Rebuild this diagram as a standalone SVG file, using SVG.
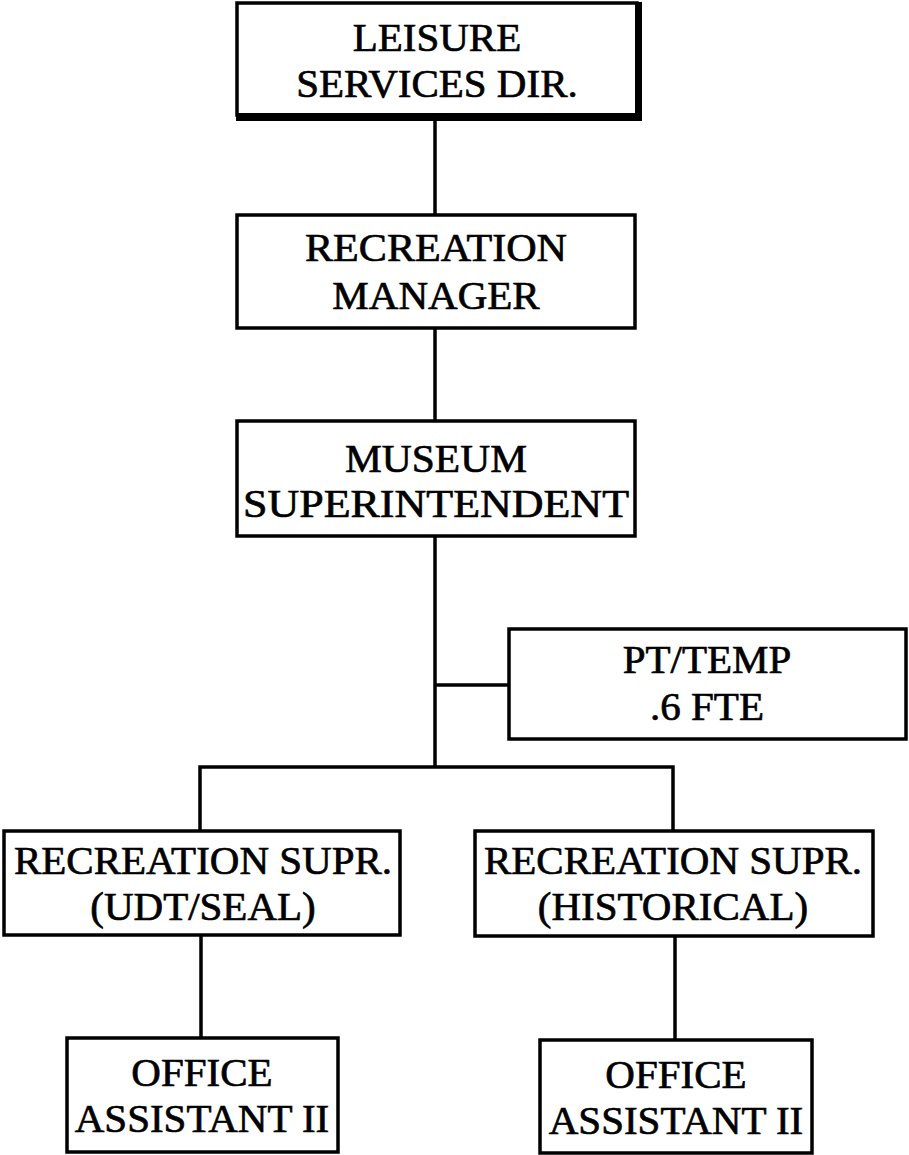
<svg xmlns="http://www.w3.org/2000/svg" width="909" height="1155" viewBox="0 0 909 1155">
  <style>
    .box { fill: #fff; stroke: #000; stroke-width: 3.5; }
    .lbl { font-family: "Liberation Serif", "Times New Roman", serif; font-size: 41px; fill: #000; stroke: #000; stroke-width: 0.7; text-anchor: middle; }
    .wire { stroke: #000; stroke-width: 3.5; fill: none; }
  </style>
  <rect width="909" height="1155" fill="#fff"/>

  <g id="connectors">
    <line class="wire" x1="435" y1="120" x2="435" y2="215"/>
    <line class="wire" x1="435" y1="328" x2="435" y2="421"/>
    <line class="wire" x1="435" y1="536" x2="435" y2="767"/>
    <line class="wire" x1="435" y1="685" x2="509" y2="685"/>
    <polyline class="wire" points="200,831 200,767 673,767 673,831"/>
    <line class="wire" x1="201" y1="935" x2="201" y2="1038"/>
    <line class="wire" x1="675" y1="936" x2="675" y2="1040"/>
  </g>

  <g id="leisure-services-dir">
    <rect class="box" x="237" y="3" width="400" height="112"/>
    <!-- heavy bottom and right edges -->
    <path d="M236 113 H642 V2 H635 V114 H236 Z M236 113 H642 V121 H236 Z" fill="#000"/>
    <text class="lbl" x="437" y="51">LEISURE</text>
    <text class="lbl" x="437" y="97">SERVICES DIR.</text>
  </g>

  <g id="recreation-manager">
    <rect class="box" x="237" y="215" width="398" height="113"/>
    <text class="lbl" x="436" y="261" textLength="262" lengthAdjust="spacingAndGlyphs">RECREATION</text>
    <text class="lbl" x="436" y="309">MANAGER</text>
  </g>

  <g id="museum-superintendent">
    <rect class="box" x="237" y="421" width="398" height="115"/>
    <text class="lbl" x="436" y="472" textLength="182" lengthAdjust="spacingAndGlyphs">MUSEUM</text>
    <text class="lbl" x="436" y="517" textLength="386" lengthAdjust="spacingAndGlyphs">SUPERINTENDENT</text>
  </g>

  <g id="pt-temp">
    <rect class="box" x="509" y="629" width="397" height="110"/>
    <text class="lbl" x="707" y="673">PT/TEMP</text>
    <text class="lbl" x="707" y="720">.6 FTE</text>
  </g>

  <g id="recreation-supr-udt-seal">
    <rect class="box" x="4" y="831" width="396" height="104"/>
    <text class="lbl" x="203" y="874" textLength="378" lengthAdjust="spacingAndGlyphs">RECREATION SUPR.</text>
    <text class="lbl" x="203" y="920">(UDT/SEAL)</text>
  </g>

  <g id="recreation-supr-historical">
    <rect class="box" x="475" y="831" width="398" height="105"/>
    <text class="lbl" x="673" y="874" textLength="378" lengthAdjust="spacingAndGlyphs">RECREATION SUPR.</text>
    <text class="lbl" x="673" y="920">(HISTORICAL)</text>
  </g>

  <g id="office-assistant-left">
    <rect class="box" x="67" y="1038" width="271" height="114"/>
    <text class="lbl" x="202" y="1086">OFFICE</text>
    <text class="lbl" x="202" y="1132">ASSISTANT II</text>
  </g>

  <g id="office-assistant-right">
    <rect class="box" x="540" y="1040" width="272" height="113"/>
    <text class="lbl" x="676" y="1088">OFFICE</text>
    <text class="lbl" x="676" y="1134">ASSISTANT II</text>
  </g>
</svg>
